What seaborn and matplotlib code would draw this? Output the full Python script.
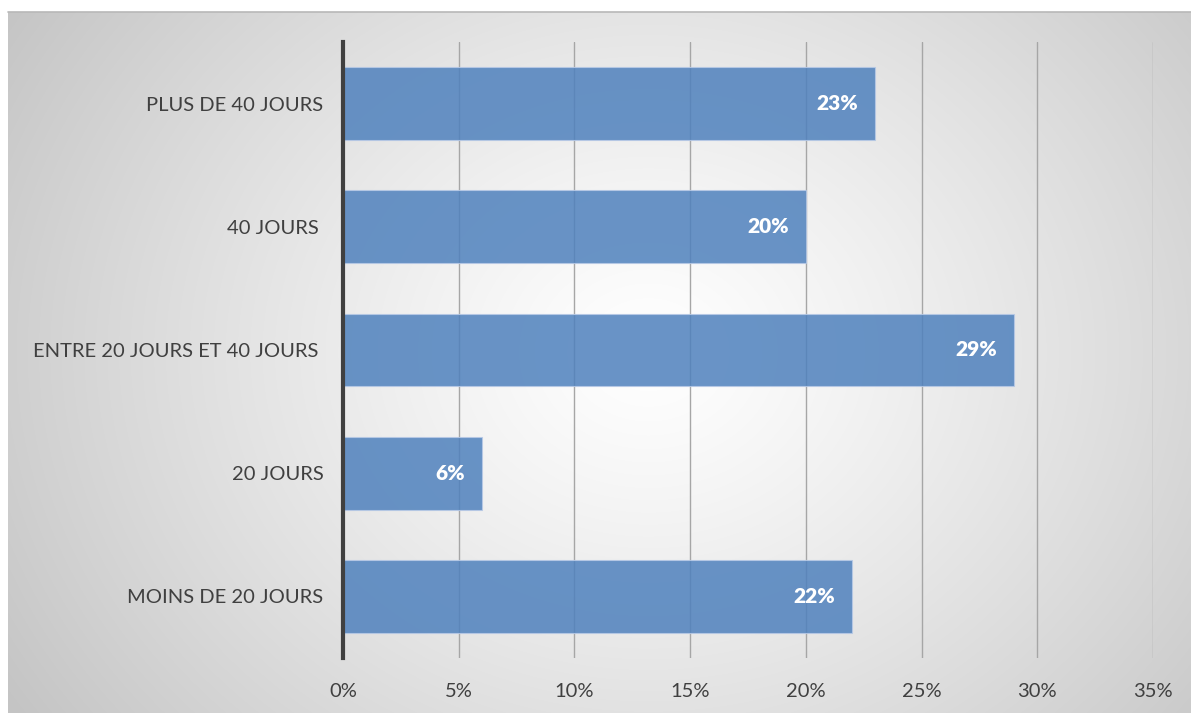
import numpy as np
import pandas as pd
import matplotlib
matplotlib.use("Agg")
import matplotlib.pyplot as plt
import seaborn as sns
from matplotlib.ticker import FuncFormatter

categories = ["PLUS DE 40 JOURS", "40 JOURS ", "ENTRE 20 JOURS ET 40 JOURS ", "20 JOURS", "MOINS DE 20 JOURS"]
shares = [23, 20, 29, 6, 22]
x_ticks = [0, 5, 10, 15, 20, 25, 30, 35]

df = pd.DataFrame({"categorie": categories, "part": shares})

sns.set_theme(style="white")
plt.rcParams["font.family"] = ["Lato", "DejaVu Sans"]

W, H = 1191, 713
fig = plt.figure(figsize=(W / 100, H / 100), dpi=100)
fig.patch.set_facecolor("white")

# radial gradient backdrop behind the chart area
bg = fig.add_axes([8 / W, 0, 1 - 8 / W, 1 - 12 / H], zorder=-10)
yy, xx = np.mgrid[0:701, 0:1183]
cx, cy = 640, 340
r = np.sqrt(((xx - cx) / 1.0) ** 2 + ((yy - cy) / 0.85) ** 2)
t = np.clip(r / 760, 0, 1) ** 1.2
grey = 1.0 - t * (1.0 - 0.77)
img = np.dstack([grey, grey, grey])
bg.imshow(img, aspect="auto", extent=[0, 1, 0, 1], origin="upper")
bg.set_axis_off()
bg.plot([0, 1], [1, 1], color="#b8b8b8", lw=1.2, transform=bg.transAxes, clip_on=False)

ax = fig.add_axes([343 / W, 1 - 658 / H, (1153 - 343) / W, (658 - 42) / H])
ax.patch.set_alpha(0)

sns.barplot(data=df, x="part", y="categorie", orient="h", color="#4F81BD",
            alpha=0.85, width=0.59, edgecolor="#b7c9e6", linewidth=0.8,
            saturation=1, ax=ax, zorder=3)

ax.set_xlim(0, 35)
ax.set_ylim(4.5, -0.5)
ax.set_xticks(x_ticks)
ax.xaxis.set_major_formatter(FuncFormatter(lambda v, p: f"{v:.0f}%"))
ax.grid(axis="x", color="#a6a6a6", linewidth=1, zorder=0)
ax.grid(axis="y", visible=False)
for s in ["top", "right", "bottom"]:
    ax.spines[s].set_visible(False)
ax.spines["left"].set_color("#404040")
ax.spines["left"].set_linewidth(3)
ax.spines["left"].set_zorder(5)
ax.set_xlabel("")
ax.set_ylabel("")
ax.tick_params(axis="x", length=0, pad=18, labelsize=14.5, labelcolor="#404040")
ax.tick_params(axis="y", length=0, pad=14, labelsize=14.5, labelcolor="#404040")

for i, v in enumerate(shares):
    ax.annotate(f"{v}%", xy=(v, i), xytext=(-12, 0), textcoords="offset points",
                ha="right", va="center", color="white", fontsize=15,
                fontweight="heavy", zorder=6)

fig.savefig("out.png", dpi=100)
